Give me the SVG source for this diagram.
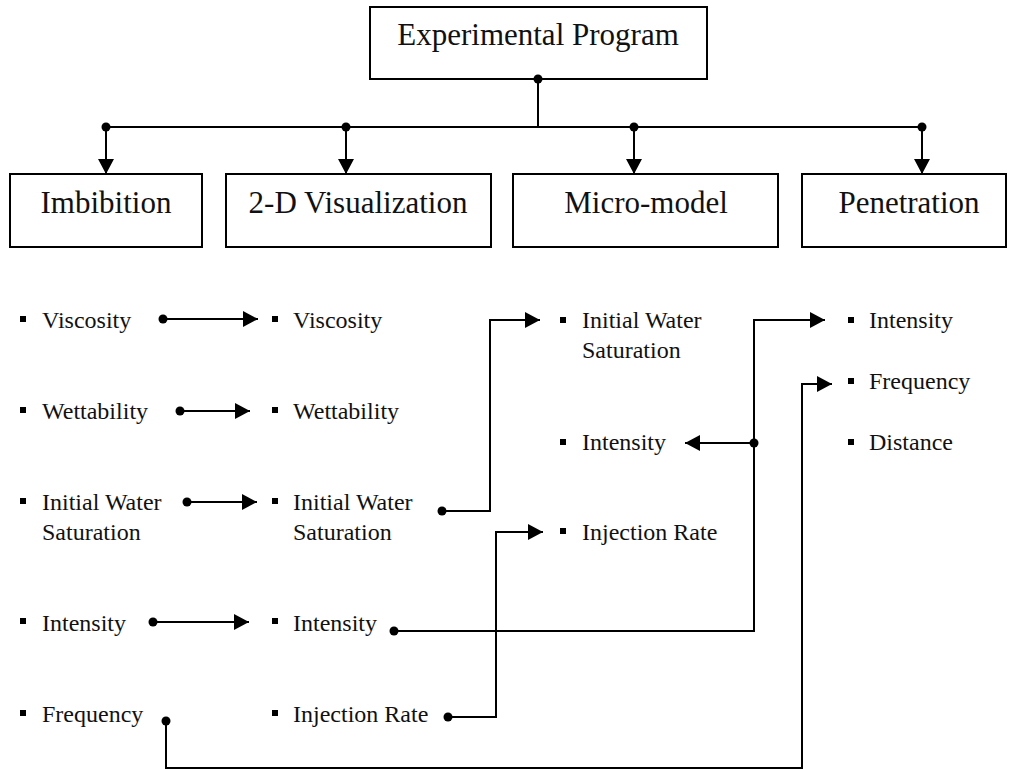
<svg xmlns="http://www.w3.org/2000/svg" width="1009" height="770" viewBox="0 0 1009 770">
<defs>
<style>
.box{fill:#fff;stroke:#000;stroke-width:2}
.title{font-family:"Liberation Serif","Times New Roman",serif;font-size:31px;fill:#111;text-anchor:middle}
.item{font-family:"Liberation Serif","Times New Roman",serif;font-size:24px;fill:#111}
.bul{fill:#000}
.ln{fill:none;stroke:#000;stroke-width:2}
.dot{fill:#000}
</style>
<marker id="ah" markerUnits="userSpaceOnUse" markerWidth="15" markerHeight="16" refX="15" refY="8" orient="auto">
<path d="M0,0 L15,8 L0,16 z" fill="#000"/>
</marker>
</defs>
<rect width="1009" height="770" fill="#fff"/>

<g id="experimental-program">
<rect class="box" x="370" y="7" width="337" height="72"/>
<text class="title" x="538" y="45">Experimental Program</text>
</g>
<g id="imbibition">
<rect class="box" x="10" y="174" width="192" height="73"/>
<text class="title" x="106" y="213">Imbibition</text>
</g>
<g id="visualization">
<rect class="box" x="226" y="174" width="265" height="73"/>
<text class="title" x="358" y="213">2-D Visualization</text>
</g>
<g id="micro-model">
<rect class="box" x="513" y="174" width="265" height="73"/>
<text class="title" x="646" y="213">Micro-model</text>
</g>
<g id="penetration">
<rect class="box" x="802" y="174" width="204" height="73"/>
<text class="title" x="909" y="213">Penetration</text>
</g>

<g id="list-imbibition">
<rect class="bul" x="20" y="316" width="6" height="6"/><text class="item" x="42" y="328">Viscosity</text>
<rect class="bul" x="20" y="407" width="6" height="6"/><text class="item" x="42" y="419">Wettability</text>
<rect class="bul" x="20" y="498" width="6" height="6"/><text class="item" x="42" y="510">Initial Water</text>
<text class="item" x="42" y="540">Saturation</text>
<rect class="bul" x="20" y="618" width="6" height="6"/><text class="item" x="42" y="631">Intensity</text>
<rect class="bul" x="20" y="710" width="6" height="6"/><text class="item" x="42" y="722">Frequency</text>
</g>
<g id="list-visualization">
<rect class="bul" x="272" y="316" width="6" height="6"/><text class="item" x="293" y="328">Viscosity</text>
<rect class="bul" x="272" y="407" width="6" height="6"/><text class="item" x="293" y="419">Wettability</text>
<rect class="bul" x="272" y="498" width="6" height="6"/><text class="item" x="293" y="510">Initial Water</text>
<text class="item" x="293" y="540">Saturation</text>
<rect class="bul" x="272" y="618" width="6" height="6"/><text class="item" x="293" y="631">Intensity</text>
<rect class="bul" x="272" y="710" width="6" height="6"/><text class="item" x="293" y="722">Injection Rate</text>
</g>
<g id="list-micro-model">
<rect class="bul" x="560" y="317" width="6" height="6"/><text class="item" x="582" y="328">Initial Water</text>
<text class="item" x="582" y="358">Saturation</text>
<rect class="bul" x="560" y="439" width="6" height="6"/><text class="item" x="582" y="450">Intensity</text>
<rect class="bul" x="560" y="528" width="6" height="6"/><text class="item" x="582" y="540">Injection Rate</text>
</g>
<g id="list-penetration">
<rect class="bul" x="848" y="317" width="6" height="6"/><text class="item" x="869" y="328">Intensity</text>
<rect class="bul" x="848" y="378" width="6" height="6"/><text class="item" x="869" y="389">Frequency</text>
<rect class="bul" x="848" y="439" width="6" height="6"/><text class="item" x="869" y="450">Distance</text>
</g>

<g id="connectors">
<path class="ln" d="M538,79 V127 M106,127 H922"/>
<path class="ln" d="M106,127 V174" marker-end="url(#ah)"/>
<path class="ln" d="M346,127 V174" marker-end="url(#ah)"/>
<path class="ln" d="M634,127 V174" marker-end="url(#ah)"/>
<path class="ln" d="M922,127 V174" marker-end="url(#ah)"/>
<circle class="dot" cx="538" cy="79" r="4.5"/>
<circle class="dot" cx="106" cy="127" r="4.5"/>
<circle class="dot" cx="346" cy="127" r="4.5"/>
<circle class="dot" cx="634" cy="127" r="4.5"/>
<circle class="dot" cx="922" cy="127" r="4.5"/>

<path class="ln" d="M163,319 H258" marker-end="url(#ah)"/>
<circle class="dot" cx="163" cy="319" r="4.5"/>
<path class="ln" d="M180,411 H250" marker-end="url(#ah)"/>
<circle class="dot" cx="180" cy="411" r="4.5"/>
<path class="ln" d="M187,502 H257" marker-end="url(#ah)"/>
<circle class="dot" cx="187" cy="502" r="4.5"/>
<path class="ln" d="M153,622 H249" marker-end="url(#ah)"/>
<circle class="dot" cx="153" cy="622" r="4.5"/>

<path class="ln" d="M442,511 H490 V320 H540" marker-end="url(#ah)"/>
<circle class="dot" cx="442" cy="511" r="4.5"/>

<path class="ln" d="M394,631 H754 V320 H825" marker-end="url(#ah)"/>
<circle class="dot" cx="394" cy="631" r="4.5"/>
<path class="ln" d="M754,443 H685" marker-end="url(#ah)"/>
<circle class="dot" cx="754" cy="443" r="4.5"/>

<path class="ln" d="M448,717 H496 V532 H543" marker-end="url(#ah)"/>
<circle class="dot" cx="448" cy="717" r="4.5"/>

<path class="ln" d="M166,721 V768 H802 V384 H832" marker-end="url(#ah)"/>
<circle class="dot" cx="166" cy="721" r="4.5"/>
</g>
</svg>
